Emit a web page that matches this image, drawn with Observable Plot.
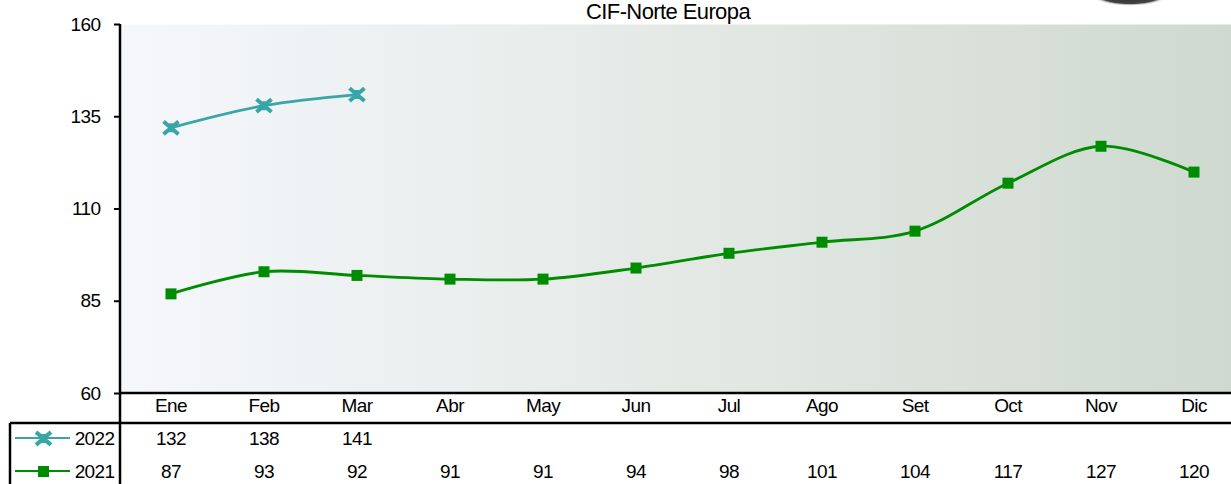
<!DOCTYPE html>
<html>
<head>
<meta charset="utf-8">
<script src="https://cdn.jsdelivr.net/npm/d3@7"></script>
<script src="https://cdn.jsdelivr.net/npm/@observablehq/plot@0.6"></script>
<style>
  html, body { margin: 0; padding: 0; background: #ffffff; }
  #chart { width: 1231px; height: 484px; overflow: hidden; }
  svg { font-family: "Liberation Sans", Arial, sans-serif; }
</style>
</head>
<body>
<div id="chart"></div>
<script>
const title = "CIF-Norte Europa";
const months = ["Ene","Feb","Mar","Abr","May","Jun","Jul","Ago","Set","Oct","Nov","Dic"];
const values2022 = [132, 138, 141];
const values2021 = [87, 93, 92, 91, 91, 94, 98, 101, 104, 117, 127, 120];
const yTicks = [60, 85, 110, 135, 160];
const seriesNames = ["2022", "2021"];

const teal = "#38a6a6";
const green = "#008c00";

const d2022 = values2022.map((v, i) => ({month: months[i], value: v}));
const d2021 = values2021.map((v, i) => ({month: months[i], value: v}));

const star = {
  draw(context, size) {
    const r = Math.sqrt(size / Math.PI);
    context.moveTo(-r, -r * 0.85); context.lineTo(r, r * 0.85);
    context.moveTo(-r, r * 0.85); context.lineTo(r, -r * 0.85);
    context.moveTo(0, -r * 0.6); context.lineTo(0, r * 0.6);
  }
};

const W = 1231, H = 484;
const mL = 120, mT = 24, mB = 91;
const step = 93.6;
const fs = 19;

const chart = Plot.plot({
  width: W,
  height: H,
  marginLeft: mL,
  marginRight: 0,
  marginTop: mT,
  marginBottom: mB,
  style: {fontSize: fs + "px", fontFamily: "'Liberation Sans', Arial, sans-serif", background: "#ffffff", color: "#000"},
  x: {type: "band", domain: months, range: [mL, mL + step * months.length], padding: 0, label: null},
  y: {domain: [60, 160], label: null},
  marks: [
    Plot.frame({fill: "url(#bgGrad)", stroke: "none"}),
    Plot.axisY({ticks: yTicks, tickSize: 6, tickPadding: 14, strokeWidth: 2, fontSize: fs, label: null}),
    Plot.axisX({tickSize: 0, tickPadding: 5, fontSize: fs, label: null}),
    Plot.line(d2021, {x: "month", y: "value", stroke: green, strokeWidth: 2.8, curve: "catmull-rom"}),
    Plot.dot(d2021, {x: "month", y: "value", symbol: "square", r: 6.2, fill: green, stroke: "none"}),
    Plot.line(d2022, {x: "month", y: "value", stroke: teal, strokeWidth: 2.8, curve: "catmull-rom"}),
    Plot.dot(d2022, {x: "month", y: "value", symbol: star, r: 7.5, stroke: teal, strokeWidth: 4, fill: "none"}),
    // data table rows
    Plot.text(d2022, {x: "month", text: d => String(d.value), frameAnchor: "bottom", dy: 51, fontSize: fs}),
    Plot.text(d2021, {x: "month", text: d => String(d.value), frameAnchor: "bottom", dy: 84, fontSize: fs}),
    Plot.text([seriesNames[0]], {text: d => d, frameAnchor: "bottom-left", dx: -6, dy: 51, textAnchor: "end", fontSize: fs}),
    Plot.text([seriesNames[1]], {text: d => d, frameAnchor: "bottom-left", dx: -6, dy: 84, textAnchor: "end", fontSize: fs}),
    Plot.dot([seriesNames[0]], {frameAnchor: "bottom-left", dx: -77, dy: 45, symbol: star, r: 7.5, stroke: teal, strokeWidth: 4}),
    Plot.dot([seriesNames[1]], {frameAnchor: "bottom-left", dx: -77, dy: 78, symbol: "square", r: 6.2, fill: green, stroke: "none"}),
    Plot.text([title], {text: d => d, frameAnchor: "top", dx: -8, dy: -21, fontSize: 22})
  ]
});

document.getElementById("chart").appendChild(chart);

const svg = d3.select(chart);
svg.selectAll("text").attr("letter-spacing", "-0.6px");

const defs = svg.insert("defs", ":first-child");
const grad = defs.append("linearGradient").attr("id", "bgGrad").attr("x1", "0%").attr("x2", "100%").attr("y1", "0%").attr("y2", "0%");
grad.append("stop").attr("offset", "0%").attr("stop-color", "#f5f7fb");
grad.append("stop").attr("offset", "50%").attr("stop-color", "#e4e9e6");
grad.append("stop").attr("offset", "100%").attr("stop-color", "#cfd9cf");

const rg = defs.append("radialGradient").attr("id", "logoGrad");
rg.append("stop").attr("offset", "0%").attr("stop-color", "#222");
rg.append("stop").attr("offset", "80%").attr("stop-color", "#444");
rg.append("stop").attr("offset", "100%").attr("stop-color", "#fff").attr("stop-opacity", 0);

const deco = svg.append("g").attr("stroke", "#000").attr("stroke-width", 2.5).attr("fill", "none");
const yBottom = H - mB;
// plot axis line through the table
deco.append("line").attr("x1", mL).attr("x2", mL).attr("y1", mT).attr("y2", H);
// baseline of plot
deco.append("line").attr("x1", mL).attr("x2", W).attr("y1", yBottom).attr("y2", yBottom);
// table header rule
deco.append("line").attr("x1", 10).attr("x2", W).attr("y1", yBottom + 30).attr("y2", yBottom + 30);
// table left border
deco.append("line").attr("x1", 10).attr("x2", 10).attr("y1", yBottom + 30).attr("y2", H);
// legend lines
deco.append("line").attr("x1", 15).attr("x2", 70).attr("y1", yBottom + 45).attr("y2", yBottom + 45).attr("stroke", teal).attr("stroke-width", 2.2);
deco.append("line").attr("x1", 15).attr("x2", 70).attr("y1", yBottom + 78).attr("y2", yBottom + 78).attr("stroke", green).attr("stroke-width", 2.2);
// partial logo at top right
svg.append("ellipse").attr("cx", 1130).attr("cy", -6).attr("rx", 40).attr("ry", 12).attr("fill", "url(#logoGrad)");
</script>
</body>
</html>
